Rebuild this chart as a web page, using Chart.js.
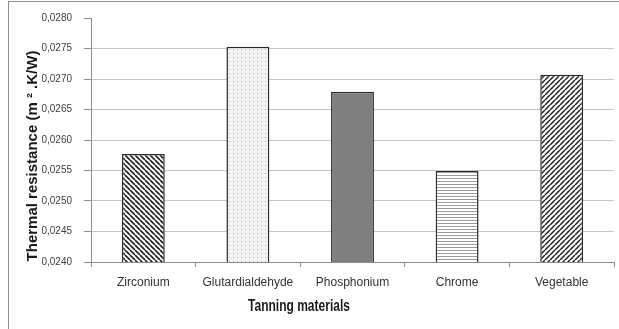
<!DOCTYPE html>
<html>
<head>
<meta charset="utf-8">
<script src="https://cdn.jsdelivr.net/npm/chart.js@4/dist/chart.umd.min.js"></script>
<style>
  html, body { margin: 0; padding: 0; background: #fff; }
  #wrap { position: relative; width: 619px; height: 329px; }
</style>
</head>
<body>
<div id="wrap"><canvas id="tanning-chart"></canvas></div>
<script>
const CATEGORIES = ['Zirconium', 'Glutardialdehyde', 'Phosphonium', 'Chrome', 'Vegetable'];
const RESISTANCE = [0.02577, 0.02753, 0.02679, 0.02549, 0.02707];
const Y_MIN = 0.0240;
const Y_MAX = 0.0280;
const Y_STEP = 0.0005;
const Y_TITLE = 'Thermal resistance (m \u00b2 .K/W)';
const X_TITLE = 'Tanning materials';

const SANS = '"Liberation Sans", Arial, sans-serif';

// little hatch tiles, one per bar
const makePattern = (size, draw) => {
  const c = document.createElement('canvas');
  c.width = size; c.height = size;
  const g = c.getContext('2d');
  g.fillStyle = '#fff';
  g.fillRect(0, 0, size, size);
  draw(g, size);
  return g.createPattern(c, 'repeat');
};

const diag = (dir, color, width) => (g, s) => {
  g.strokeStyle = color;
  g.lineWidth = width;
  g.beginPath();
  for (let k = -1; k <= 1; k++) {
    if (dir > 0) { g.moveTo(k * s, s); g.lineTo(k * s + s, 0); }
    else { g.moveTo(k * s, 0); g.lineTo(k * s + s, s); }
  }
  g.stroke();
};

const patterns = [
  makePattern(5, diag(-1, '#222', 1.6)),
  makePattern(4, (g) => { g.fillStyle = '#f4f4f4'; g.fillRect(0, 0, 4, 4); g.fillStyle = '#b0b0b0'; g.fillRect(1, 1, 1, 1); }),
  '#7f7f7f',
  makePattern(3, (g) => { g.fillStyle = '#9a9a9a'; g.fillRect(0, 1, 3, 1); }),
  makePattern(5, diag(1, '#222', 1.5)),
];

const frameAndTitles = {
  id: 'frameAndTitles',
  beforeDraw(chart) {
    const g = chart.ctx;
    g.save();
    g.strokeStyle = '#8c8c8c';
    g.lineWidth = 1;
    g.strokeRect(8.5, 1.5, 700, 400);
    g.restore();
  },
  afterDraw(chart) {
    const g = chart.ctx;
    g.save();
    g.fillStyle = '#1a1a1a';
    g.textAlign = 'center';
    g.textBaseline = 'middle';
    // x title is a condensed face in the original, squeeze it a bit
    g.save();
    g.translate(299, 307);
    g.scale(0.75, 1);
    g.font = 'bold 16px ' + SANS;
    g.fillText(X_TITLE, 0, 0);
    g.restore();
    g.translate(33, 156);
    g.rotate(-Math.PI / 2);
    g.font = 'bold 15px ' + SANS;
    g.fillText(Y_TITLE, 0, 0);
    g.restore();
  },
};

new Chart(document.getElementById('tanning-chart'), {
  type: 'bar',
  data: {
    labels: CATEGORIES,
    datasets: [{
      data: RESISTANCE,
      backgroundColor: patterns,
      borderColor: '#2b2b2b',
      borderWidth: 1.5,
      borderSkipped: false,
      barPercentage: 0.41,
      categoryPercentage: 1,
    }],
  },
  options: {
    responsive: true,
    maintainAspectRatio: false,
    animation: false,
    layout: { padding: { left: 8, top: 18, right: 5, bottom: 0 } },
    plugins: { legend: { display: false }, tooltip: { enabled: false } },
    scales: {
      x: {
        offset: true,
        grid: { offset: true, drawOnChartArea: false, tickLength: 5, tickColor: '#8c8c8c' },
        border: { color: '#8c8c8c' },
        ticks: {
          color: '#333',
          padding: 8,
          maxRotation: 0,
          minRotation: 0,
          autoSkip: false,
          font: { family: SANS, size: 12 },
        },
        afterFit: (s) => { s.height = 67; },
      },
      y: {
        min: Y_MIN,
        max: Y_MAX,
        grid: {
          color: (ctx) => (ctx.tick && Math.abs(ctx.tick.value - Y_MAX) < 1e-9 ? 'rgba(0,0,0,0)' : '#c4c4c4'),
          tickColor: '#8c8c8c',
          tickLength: 7,
        },
        border: { color: '#8c8c8c' },
        ticks: {
          stepSize: Y_STEP,
          color: '#404040',
          padding: 12,
          font: { family: SANS, size: 10 },
          callback: (v) => v.toFixed(4).replace('.', ','),
        },
        afterFit: (s) => { s.width = 83; },
      },
    },
  },
  plugins: [frameAndTitles],
});
</script>
</body>
</html>
